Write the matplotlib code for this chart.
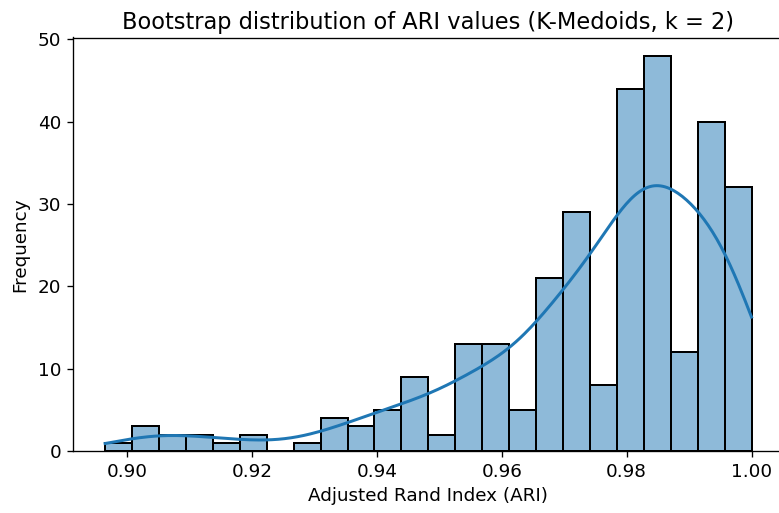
import numpy as np
import matplotlib.pyplot as plt

ari_min = 0.8965
ari_max = 1.0
frecuencias = [1, 3, 2, 2, 1, 2, 0, 1, 4, 3, 5, 9, 2, 13, 13, 5, 21, 29, 8, 44, 48, 12, 40, 32]

bordes = np.linspace(ari_min, ari_max, len(frecuencias) + 1)
centros = (bordes[:-1] + bordes[1:]) / 2
ancho = bordes[1] - bordes[0]

# Muestra aproximada para la curva KDE
muestra = np.repeat(centros, frecuencias)
n = len(muestra)
bw = muestra.std(ddof=1) * n ** (-1 / 5)
xs = np.linspace(ari_min, ari_max, 300)
dens = np.exp(-0.5 * ((xs[:, None] - muestra[None, :]) / bw) ** 2).sum(axis=1) / (n * bw * np.sqrt(2 * np.pi))
kde = dens * n * ancho

fig = plt.figure(figsize=(779 / 120, 513 / 120), dpi=120)
ax = fig.add_axes([73 / 779, 62 / 513, 711 / 779, 413.5 / 513])

ax.hist(centros, bins=bordes, weights=frecuencias, color='#1f77b4', alpha=0.5)
ax.hist(centros, bins=bordes, weights=frecuencias, histtype='bar', fill=False,
        edgecolor='black', linewidth=1.2)
ax.plot(xs, kde, color='#1f77b4', linewidth=1.8)

ax.set_xlim(0.89136, 1.0052)
ax.set_ylim(0, 50.2)
ax.set_xticks([0.90, 0.92, 0.94, 0.96, 0.98, 1.00])
ax.set_title('Bootstrap distribution of ARI values (K-Medoids, k = 2)', fontsize=13.5, pad=5)
ax.set_xlabel('Adjusted Rand Index (ARI)', fontsize=11)
ax.set_ylabel('Frequency', fontsize=11, labelpad=5)
ax.tick_params(labelsize=11)

plt.savefig('out.png', dpi=120)
